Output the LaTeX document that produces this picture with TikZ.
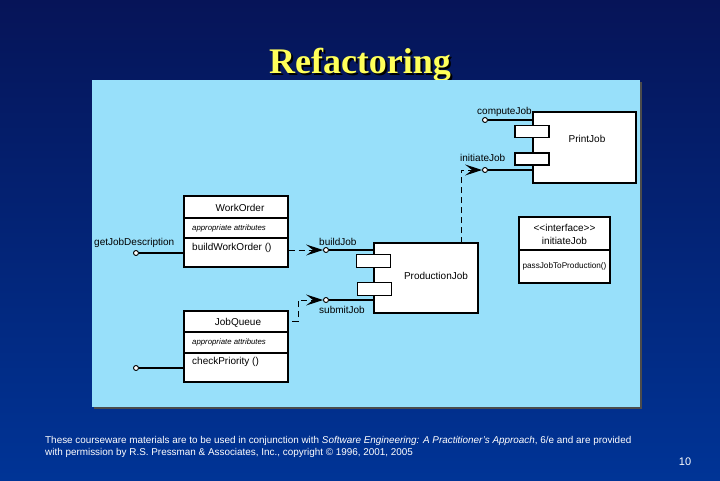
\documentclass[tikz,border=0pt]{standalone}
\usepackage{fontspec}
\setmainfont{Liberation Sans}
\newfontfamily\titlefont{Liberation Serif}
\usetikzlibrary{arrows.meta, positioning, calc}

\definecolor{slidetop}{RGB}{6,20,88}
\definecolor{slidebot}{RGB}{0,52,150}
\definecolor{titleyellow}{RGB}{255,255,90}
\definecolor{panelcyan}{RGB}{152,224,250}

\begin{document}
\begin{tikzpicture}[x=1pt, y=-1pt,
        uml_box/.style={rectangle, draw, fill=white, line width=1.1pt, inner sep=0pt},
        jack/.style={rectangle, draw, fill=white, line width=1.1pt, inner sep=0pt,
          minimum width=34pt, minimum height=12pt},
        port/.style={circle, draw, fill=white, line width=0.9pt, inner sep=0pt, minimum size=5pt},
        label_text/.style={font=\fontsize{10}{12}\selectfont, inner sep=0pt},
        attr_text/.style={font=\fontsize{7.8}{9}\selectfont\itshape, inner sep=0pt},
        wire/.style={line width=1.4pt},
        dep/.style={line width=1pt, dash pattern=on 6pt off 4pt,
          -{Stealth[length=17pt, width=11pt, inset=7pt]}}]

      \useasboundingbox (0,0) rectangle (720,480);
      \shade[top color=slidetop, bottom color=slidebot] (0,0) rectangle (720,480);

      % title with shadow
      \node[font=\titlefont\bfseries\fontsize{36}{40}\selectfont, text=black, anchor=base] (title_shadow) at (362,75) {Refactoring};
      \node[font=\titlefont\bfseries\fontsize{36}{40}\selectfont, text=titleyellow, anchor=base] (title) at (360,73) {Refactoring};

      % panel
      \fill[black!70] (94,82) rectangle (642,409);
      \fill[panelcyan] (92,80) rectangle (640,407);

      % PrintJob component
      \node[uml_box, minimum width=103pt, minimum height=71pt] (print_job) at (584.5,147.5) {};
      \node[label_text] (print_job_name) at (587,139) {PrintJob};
      \node[jack] (print_jack_a) at (532,131.5) {};
      \node[jack] (print_jack_b) at (532,159) {};
      \node[port] (compute_port) at (485,120) {};
      \node[port] (initiate_port) at (485,170) {};
      \node[label_text, anchor=base west] (compute_lbl) at (477,114) {computeJob};
      \node[label_text, anchor=base west] (initiate_lbl) at (460,161) {initiateJob};

      % ProductionJob component
      \node[uml_box, minimum width=104pt, minimum height=70pt] (production_job) at (426,278) {};
      \node[label_text] (production_job_name) at (436,276) {ProductionJob};
      \node[jack, minimum height=13pt] (production_jack_a) at (373.5,261) {};
      \node[jack, minimum height=13pt] (production_jack_b) at (374.5,289) {};
      \node[port] (build_job_port) at (326,250) {};
      \node[port] (submit_job_port) at (326,300) {};
      \node[label_text, anchor=base west] (build_job_lbl) at (319,245) {buildJob};
      \node[label_text, anchor=base west] (submit_job_lbl) at (319,313) {submitJob};

      % WorkOrder class
      \node[uml_box, minimum width=104pt, minimum height=71pt] (work_order) at (236,231.5) {};
      \node[label_text] (work_order_name) at (240,208) {WorkOrder};
      \node[attr_text, anchor=west] (work_order_attr) at (192,228) {appropriate attributes};
      \node[label_text, anchor=west] (work_order_op) at (192,248) {buildWorkOrder ()};
      \draw[line width=1.1pt] (work_order.west |- 0,218) -- (work_order.east |- 0,218);
      \draw[line width=1.1pt] (work_order.west |- 0,238) -- (work_order.east |- 0,238);
      \node[port] (get_desc_port) at (136,253) {};
      \node[label_text, anchor=base west] (get_desc_lbl) at (94,245) {getJobDescription};

      % JobQueue class
      \node[uml_box, minimum width=104pt, minimum height=71pt] (job_queue) at (236,346.5) {};
      \node[label_text] (job_queue_name) at (238,323) {JobQueue};
      \node[attr_text, anchor=west] (job_queue_attr) at (192,342) {appropriate attributes};
      \node[label_text, anchor=west] (job_queue_op) at (192,362) {checkPriority ()};
      \draw[line width=1.1pt] (job_queue.west |- 0,332) -- (job_queue.east |- 0,332);
      \draw[line width=1.1pt] (job_queue.west |- 0,353) -- (job_queue.east |- 0,353);
      \node[port] (check_port) at (136,368) {};

      % interface
      \node[uml_box, minimum width=91pt, minimum height=66pt] (initiate_iface) at (564.5,250) {};
      \node[label_text] (iface_stereo) at (564.5,228) {<{}<interface>{}>};
      \node[label_text] (iface_name) at (564.5,241) {initiateJob};
      \node[font=\fontsize{8.2}{9}\selectfont, inner sep=0pt] (iface_op) at (564.5,266) {passJobToProduction()};
      \draw[line width=1.1pt] (initiate_iface.west |- 0,250) -- (initiate_iface.east |- 0,250);

      % interface lines
      \draw[wire] (compute_port) -- (compute_port -| print_job.west);
      \draw[wire] (initiate_port) -- (initiate_port -| print_job.west);
      \draw[wire] (build_job_port) -- (build_job_port -| production_job.west);
      \draw[wire] (submit_job_port) -- (submit_job_port -| production_job.west);
      \draw[wire] (get_desc_port) -- (get_desc_port -| work_order.west);
      \draw[wire] (check_port) -- (check_port -| job_queue.west);

      % dependencies
      \coordinate (queue_out) at (292,321);
      \coordinate (production_top) at (461,243);
      \draw[dep] (work_order.east |- build_job_port) -- (build_job_port);
      \draw[dep] (queue_out) -- ++(6,0) |- (submit_job_port);
      \draw[dep] (production_top) |- (initiate_port);

      % footer
      \node[font=\fontsize{9.9}{12}\selectfont, text=white, align=left, anchor=base west, inner sep=0pt] (footer) at (45,455)
        {These courseware materials are to be used in conjunction with \textit{Software Engineering: A Practitioner's Approach}, 6/e and are provided\\
         with permission by R.S. Pressman \& Associates, Inc., copyright \textcopyright{} 1996, 2001, 2005};
      \node[font=\fontsize{11}{12}\selectfont, text=white, anchor=base] (page_num) at (685,465) {10};
    \end{tikzpicture}
\end{document}
